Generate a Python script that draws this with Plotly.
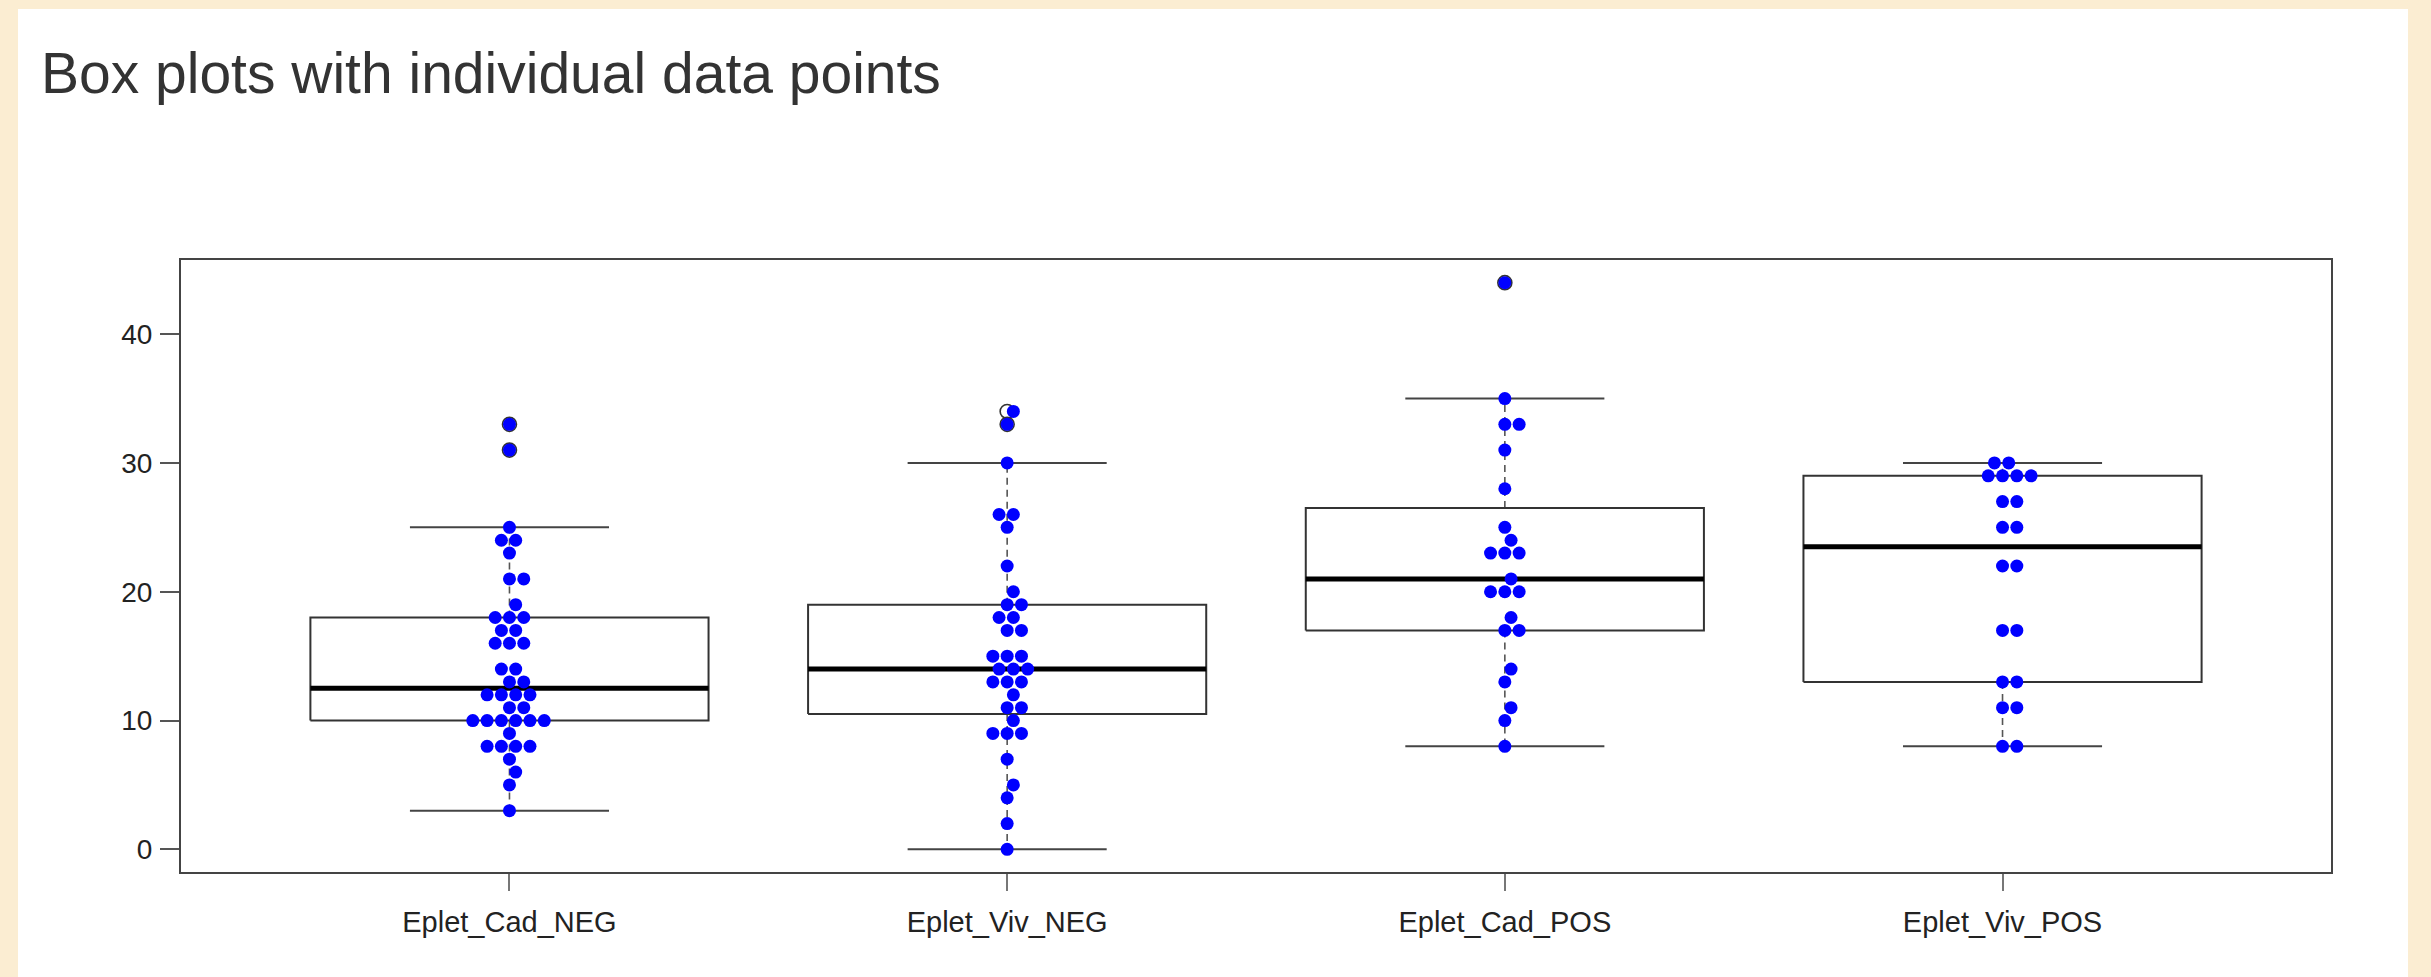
import math
import plotly.graph_objects as go

# ---------------- data ----------------
categories = ["Eplet_Cad_NEG", "Eplet_Viv_NEG", "Eplet_Cad_POS", "Eplet_Viv_POS"]
eplet_cad_neg = [3, 5, 6, 7, 8, 8, 8, 8, 9, 10, 10, 10, 10, 10, 10, 11, 11, 12, 12, 12, 12,
                 13, 13, 14, 14, 16, 16, 16, 17, 17, 18, 18, 18, 19, 21, 21, 23, 24, 24, 25, 31, 33]
eplet_viv_neg = [0, 2, 4, 5, 7, 9, 9, 9, 10, 11, 11, 12, 13, 13, 13, 14, 14, 14, 15, 15, 15,
                 17, 17, 18, 18, 19, 19, 20, 22, 25, 26, 26, 30, 33, 34]
eplet_cad_pos = [8, 10, 11, 13, 14, 17, 17, 18, 20, 20, 20, 21, 23, 23, 23, 24, 25, 28, 31, 33, 33, 35, 44]
eplet_viv_pos = [8, 8, 11, 11, 13, 13, 17, 17, 22, 22, 25, 25, 27, 27, 29, 29, 29, 29, 30, 30]
groups = [eplet_cad_neg, eplet_viv_neg, eplet_cad_pos, eplet_viv_pos]
y_ticks = [0, 10, 20, 30, 40]
title_text = "Box plots with individual data points"

# ---------------- layout constants ----------------
W, H = 2431, 977
ML, MR, MT, MB = 181, 100, 260, 105
all_vals = [v for g in groups for v in g]
span = max(all_vals) - min(all_vals)
Y_RANGE = [min(all_vals) - 0.04 * span, max(all_vals) + 0.04 * span]
X_RANGE = [0.34, 4.66]
XPX = (W - ML - MR) / (X_RANGE[1] - X_RANGE[0])
YPX = (H - MT - MB) / (Y_RANGE[1] - Y_RANGE[0])
DOT = 14.3  # collision diameter in px for swarm
BOX_HALF = 0.4
STAPLE_HALF = 0.2
FONT = "Liberation Sans, Arial, Helvetica, sans-serif"


def fivenum(v):
    x = sorted(v)
    n = len(x)
    n4 = math.floor((n + 3) / 2) / 2
    d = [1, n4, (n + 1) / 2, n + 1 - n4, n]
    return [0.5 * (x[math.floor(i) - 1] + x[math.ceil(i) - 1]) for i in d]


def swarm(vals):
    order = sorted(range(len(vals)), key=lambda i: vals[i])
    placed = []
    offs = [0.0] * len(vals)
    for i in order:
        y = vals[i] * YPX
        cands = [0.0]
        for (px, py) in placed:
            dy = abs(py - y)
            if dy < DOT:
                dx = math.sqrt(DOT ** 2 - dy ** 2)
                cands += [px + dx, px - dx]
        ok = [c for c in cands
              if all((c - px) ** 2 + (y - py) ** 2 >= DOT ** 2 - 1e-6 for px, py in placed)]
        best = min(ok, key=lambda c: (round(abs(c), 6), -c))
        placed.append((best, y))
        offs[i] = best / XPX
    return offs


fig = go.Figure()

for k, vals in enumerate(groups):
    xc = k + 1
    mn, q1, med, q3, mx = fivenum(vals)
    iqr = q3 - q1
    up = max(v for v in vals if v <= q3 + 1.5 * iqr)
    lo = min(v for v in vals if v >= q1 - 1.5 * iqr)
    outl = [v for v in vals if v > q3 + 1.5 * iqr or v < q1 - 1.5 * iqr]

    # whiskers (dashed)
    fig.add_trace(go.Scatter(x=[xc, xc, None, xc, xc], y=[q3, up, None, q1, lo], mode="lines",
                             line=dict(color="#555555", width=1.6, dash="7px,5px"),
                             hoverinfo="skip", showlegend=False))
    # staples
    fig.add_trace(go.Scatter(x=[xc - STAPLE_HALF, xc + STAPLE_HALF, None, xc - STAPLE_HALF, xc + STAPLE_HALF],
                             y=[up, up, None, lo, lo], mode="lines",
                             line=dict(color="#444444", width=2), hoverinfo="skip", showlegend=False))
    # box
    fig.add_trace(go.Scatter(x=[xc - BOX_HALF, xc + BOX_HALF, xc + BOX_HALF, xc - BOX_HALF, xc - BOX_HALF],
                             y=[q1, q1, q3, q3, q1], mode="lines",
                             line=dict(color="#333333", width=2), hoverinfo="skip", showlegend=False))
    # median
    fig.add_trace(go.Scatter(x=[xc - BOX_HALF, xc + BOX_HALF], y=[med, med], mode="lines",
                             line=dict(color="#000000", width=5), hoverinfo="skip", showlegend=False))
    # outlier circles
    if outl:
        fig.add_trace(go.Scatter(x=[xc] * len(outl), y=outl, mode="markers",
                                 marker=dict(symbol="circle-open", size=14, color="#333333",
                                             line=dict(width=1.6)),
                                 hoverinfo="skip", showlegend=False))

for k, vals in enumerate(groups):
    xc = k + 1
    offs = swarm(vals)
    fig.add_trace(go.Scatter(x=[xc + o for o in offs], y=vals, mode="markers",
                             marker=dict(color="#0000FF", size=13, line=dict(width=0)),
                             name=categories[k], showlegend=False))

# white panel behind the chart
px_x = lambda p: (p - ML) / (W - ML - MR)
px_y = lambda p: (H - MB - p) / (H - MT - MB)
fig.add_shape(type="rect", xref="paper", yref="paper", layer="below",
              x0=px_x(18), x1=px_x(2408), y0=px_y(H + 5), y1=px_y(9),
              fillcolor="white", line=dict(width=0))

fig.update_layout(
    width=W, height=H,
    margin=dict(l=ML, r=MR, t=MT, b=MB, pad=0),
    paper_bgcolor="#FBEDD2",
    plot_bgcolor="white",
    font=dict(family=FONT, color="#222222"),
    title=dict(text=title_text, xref="container", yref="container",
               x=41 / W, y=1 - 73 / H, xanchor="left", yanchor="middle",
               font=dict(size=57, color="#333333", family=FONT)),
    xaxis=dict(range=X_RANGE, tickmode="array", tickvals=[1, 2, 3, 4], ticktext=categories,
               showgrid=False, zeroline=False, showline=True, mirror=True,
               linecolor="#444444", linewidth=2, ticks="outside", ticklen=17, tickwidth=2,
               tickcolor="#777777", tickfont=dict(size=29, color="#222222"), ticklabelstandoff=6),
    yaxis=dict(range=Y_RANGE, tickmode="array", tickvals=y_ticks,
               showgrid=False, zeroline=False, showline=True, mirror=True,
               linecolor="#444444", linewidth=2, ticks="outside", ticklen=19, tickwidth=2,
               tickcolor="#555555", tickfont=dict(size=28, color="#222222"), ticklabelstandoff=2),
)

fig.write_html("out.html", config={"displayModeBar": False},
               post_script="document.body.style.margin='0';document.body.style.overflow='hidden';")
